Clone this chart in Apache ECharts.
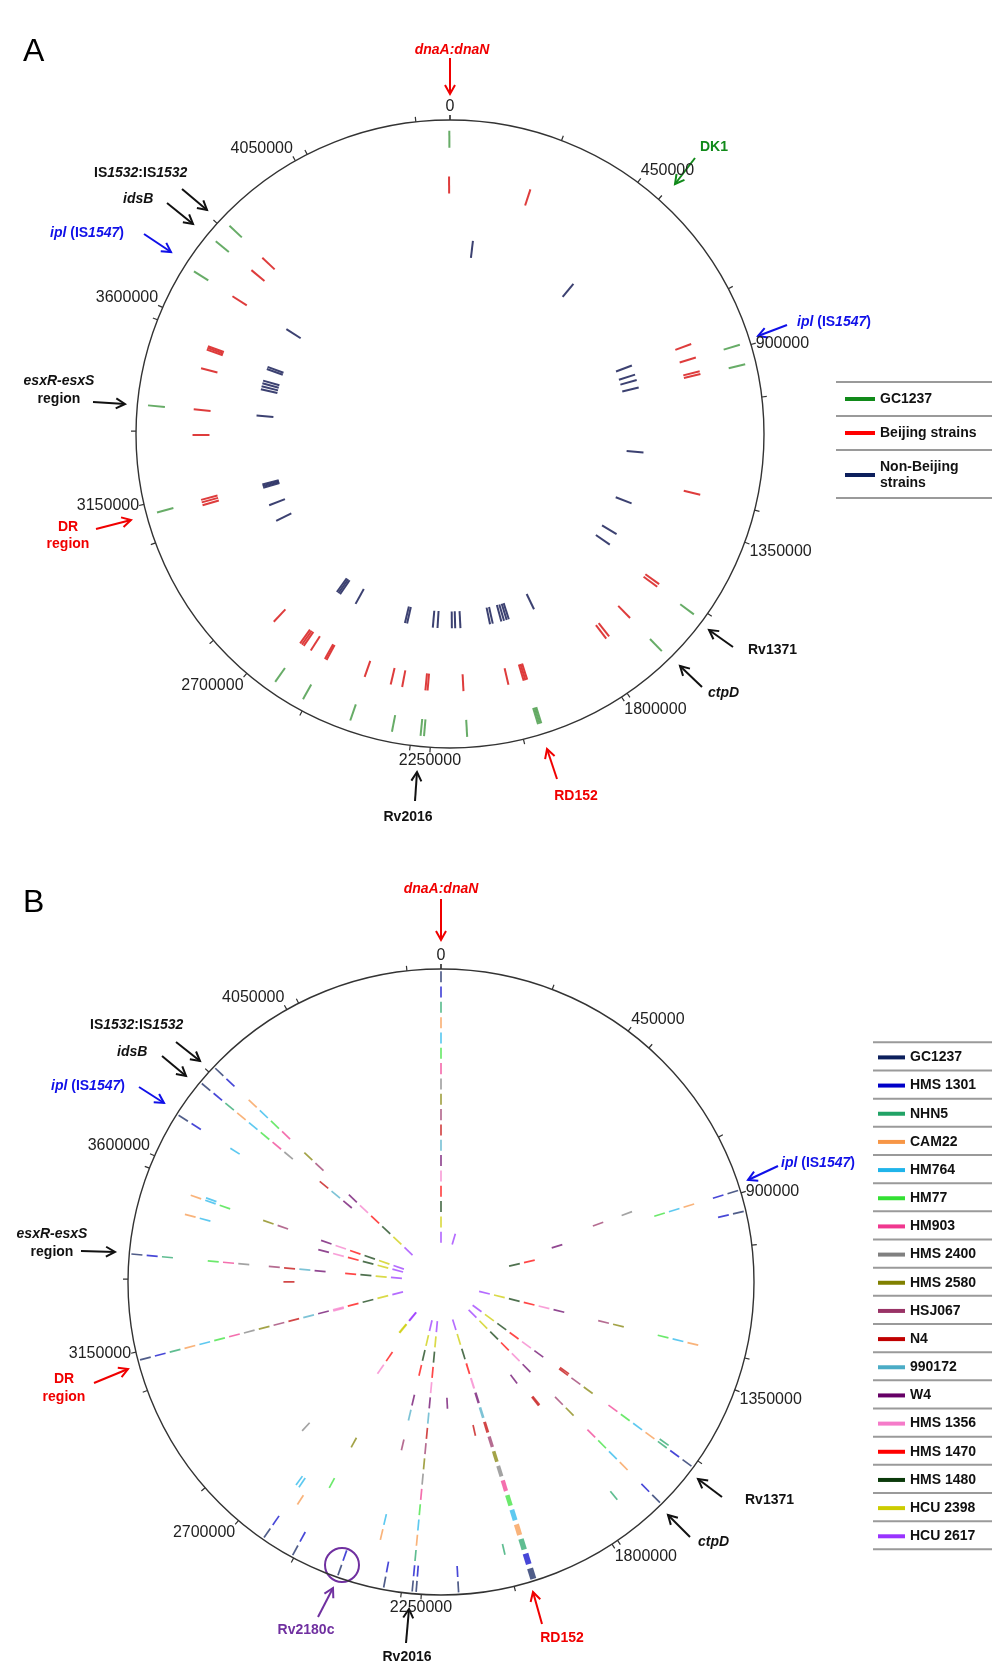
<!DOCTYPE html>
<html><head><meta charset="utf-8">
<script src="https://cdn.jsdelivr.net/npm/echarts@6/dist/echarts.min.js"></script>
<style>html,body{margin:0;padding:0;background:#fff}#c{width:1004px;height:1673px}</style>
</head><body><div id="c"></div>
<script>
// ---------------- DATA ----------------
const GENOME = 4411532;
const LABEL_STEP = 450000;   // labelled ticks
const MINOR_STEP = 255000;   // unlabelled ticks

// Panel A: variant positions per track
const seriesNamesA = ['GC1237', 'Beijing strains', 'Non-Beijing strains'];
const greenA = [4410000, 3840000, 3792000, 3706000, 3375000, 3125000, 2637000, 2561000, 2441000, 2341000,
  2266000, 2274000, 2166000, 1991000, 1995000, 1999000, 1663000, 1550000, 893000, 940000];
const redA = [4409000, 3838000, 3793000, 3705000, 3543000, 3548000, 3553000, 3490000, 3376000, 3306000,
  3112000, 3120000, 3127000, 2735000, 2630000, 2636000, 2642000, 2607000, 2557000, 2562000, 2443000,
  2369000, 2337000, 2267000, 2273000, 2169000, 2045000, 1992000, 1997000, 2002000, 1738000, 1748000,
  1662000, 1540000, 1549000, 1270000, 852000, 891000, 930000, 938000, 223000];
const navyA = [83000, 483000, 850000, 885000, 905000, 933000, 1170000, 1359000, 1483000, 1528000, 1892000,
  2060000, 2050000, 2018000, 2008000, 1998000, 1990000, 2199000, 2187000, 2168000, 2268000, 2251000,
  2362000, 2370000, 2628000, 2635000, 2642000, 2562000, 3112000, 3118000, 3124000, 3045000, 2983000,
  3709000, 3548000, 3556000, 3504000, 3494000, 3483000, 3472000, 3376000];

// Panel B: strains (outermost track first) and variant sites
const strainsB = ['GC1237', 'HMS 1301', 'NHN5', 'CAM22', 'HM764', 'HM77', 'HM903', 'HMS 2400', 'HMS 2580',
  'HSJ067', 'N4', '990172', 'W4', 'HMS 1356', 'HMS 1470', 'HMS 1480', 'HCU 2398', 'HCU 2617'];
const ALL = 'all';
const siteStartB = [0, 203000, 855000, 893000, 942000, 1272000, 1540000, 1548000, 1657000, 1728000,
  1731000, 1737000, 1754000, 1987000, 2044000, 2051000, 2166000, 2170000, 2262000, 2271000,
  2336000, 2368000, 2443000, 2555000, 2608000, 2631000, 2641000, 2684000, 2692000, 2733000,
  3124000, 3131000, 3309000, 3372000, 3490000, 3543000, 3550000, 3706000, 3795000, 3841000];
const siteEndB = [0, 203000, 855000, 893000, 942000, 1272000, 1540000, 1548000, 1657000, 1728000,
  1731000, 1737000, 1754000, 2001000, 2044000, 2051000, 2166000, 2170000, 2262000, 2271000,
  2336000, 2368000, 2443000, 2555000, 2608000, 2631000, 2641000, 2684000, 2692000, 2733000,
  3124000, 3131000, 3309000, 3372000, 3490000, 3543000, 3550000, 3706000, 3795000, 3841000];
const siteStrainsB = [ALL, [17], [7, 9], [0, 1, 3, 4, 5, 12], [0, 1, 14, 15],
  [3, 4, 5, 8, 9, 12, 13, 14, 15, 16, 17], [2, 10],
  [0, 1, 2, 3, 4, 5, 6, 8, 9, 10, 12, 13, 14, 15, 16, 17],
  [0, 1, 3, 4, 5, 6, 8, 9, 12, 13, 14, 15, 16, 17], [2],
  [10], [10], [12], ALL, [2], [10], [0, 1], [12], [0, 1], ALL,
  [0, 1], [3, 4, 9, 11, 12, 14, 15, 16, 17], [0, 1], [0, 1, 5, 8], [3], [0, 1, 4, 13, 14], [4],
  [16, 17], [16, 17], [7],
  [13], ALL, [10], [0, 1, 2, 5, 6, 7, 9, 10, 11, 12, 14, 15, 16, 17],
  [3, 4, 12, 13, 14, 15, 16, 17], [3, 4, 5, 8, 9, 12, 13, 14, 15, 16, 17], [4], [0, 1, 4],
  [0, 1, 2, 3, 4, 5, 6, 7, 10, 11, 12], [0, 1, 3, 4, 5, 6, 8, 9, 12, 13, 14, 15, 16, 17]];

// ---------------- STYLE ----------------
const FONT = '"Liberation Sans", Arial, Helvetica, sans-serif';
const colorsA = ['#118a1a', '#ff0000', '#0d1f5c'];
const markColorsA = ['#4c9e4c', '#d81a1a', '#1a2058'];
const ringA = [0.939, 0.793, 0.592];
const colorsB = ['#0c1f5c', '#0000c8', '#21a366', '#f79646', '#20b4ea', '#33e033', '#f0388f', '#808080',
  '#808000', '#993366', '#c00000', '#4bacc6', '#660066', '#f57bc9', '#ff0000', '#0b3a0b', '#cccc00', '#9933ff'];

function makeRender(halfLen, minW, alpha) {
  return function (params, api) {
    const r = api.value(0), a0 = api.value(1), a1 = api.value(2);
    const mid = (a0 + a1) / 2;
    const pIn = api.coord([r - halfLen, mid]);
    const pOut = api.coord([r + halfLen, mid]);
    const e0 = api.coord([r, a0]), e1 = api.coord([r, a1]);
    const w = Math.max(minW, Math.hypot(e1[0] - e0[0], e1[1] - e0[1]));
    return {
      type: 'line',
      shape: { x1: pIn[0], y1: pIn[1], x2: pOut[0], y2: pOut[1] },
      style: { stroke: api.visual('color'), lineWidth: w, opacity: alpha }
    };
  };
}

function angleAxes(polarIndex, labels) {
  return [{
    polarIndex: polarIndex, type: 'value', min: 0, max: GENOME, interval: LABEL_STEP,
    startAngle: 90, clockwise: true,
    axisLine: { show: true, lineStyle: { color: '#333', width: 1.4 } },
    axisTick: { show: true, length: 5, lineStyle: { color: '#333', width: 1.2 } },
    axisLabel: {
      show: labels, margin: 5, color: '#222', fontSize: 16, fontFamily: FONT,
      formatter: v => (v % LABEL_STEP === 0 && v < GENOME) ? String(v) : ''
    },
    splitLine: { show: false }, splitArea: { show: false }
  }, {
    polarIndex: polarIndex + 1, type: 'value', min: 0, max: GENOME, interval: MINOR_STEP,
    startAngle: 90, clockwise: true,
    axisLine: { show: false },
    axisTick: { show: true, length: 5, lineStyle: { color: '#333', width: 1.2 } },
    axisLabel: { show: false }, splitLine: { show: false }, splitArea: { show: false }
  }];
}
function hiddenRadius(polarIndex, min, max) {
  return {
    polarIndex: polarIndex, type: 'value', min: min, max: max,
    axisLine: { show: false }, axisTick: { show: false }, axisLabel: { show: false },
    splitLine: { show: false }, splitArea: { show: false }
  };
}

// ---------------- SERIES ----------------
const series = [];
[greenA, redA, navyA].forEach((arr, i) => {
  const base = makeRender(0.027, 2, 0.85);
  series.push({
    type: 'custom', name: seriesNamesA[i], coordinateSystem: 'polar', polarIndex: 0,
    itemStyle: { color: colorsA[i] },
    encode: { radius: 0, angle: 1 },
    renderItem: function (p, api) {
      const g = base(p, api);
      g.style.stroke = markColorsA[i];
      return g;
    },
    data: arr.map(v => [ringA[i], v, v])
  });
});
strainsB.forEach((name, k) => {
  const data = [];
  siteStartB.forEach((s, j) => {
    const rings = siteStrainsB[j];
    if (rings === ALL || rings.indexOf(k) >= 0) data.push([17.5 - k, s, siteEndB[j]]);
  });
  series.push({
    type: 'custom', name: 'B:' + name, coordinateSystem: 'polar', polarIndex: 2,
    itemStyle: { color: colorsB[k] },
    encode: { radius: 0, angle: 1 },
    renderItem: makeRender(0.36, 1.7, 0.72),
    data: data
  });
});

// ---------------- ANNOTATIONS ----------------
const els = [];
function arrow(x1, y1, x2, y2, color) {
  const ang = Math.atan2(y2 - y1, x2 - x1);
  const L = 9, W = 5;
  const bx = x2 - L * Math.cos(ang), by = y2 - L * Math.sin(ang);
  const px = -Math.sin(ang) * W, py = Math.cos(ang) * W;
  els.push({ type: 'line', shape: { x1: x1, y1: y1, x2: x2, y2: y2 }, style: { stroke: color, lineWidth: 2 } });
  els.push({ type: 'polyline', shape: { points: [[bx + px, by + py], [x2, y2], [bx - px, by - py]] },
    style: { stroke: color, lineWidth: 2, fill: null } });
}
function txt(x, y, text, color, align, italicAll, size, weight) {
  const f = (italicAll ? 'italic ' : '') + (weight || 'bold') + ' ' + (size || 14) + 'px ' + FONT;
  els.push({
    type: 'text', x: x, y: y,
    style: {
      text: text, fill: color, font: f,
      align: align, verticalAlign: 'middle', textAlign: align, textVerticalAlign: 'middle',
      rich: { i: { font: 'italic bold 14px ' + FONT, fill: color } }
    }
  });
}
const BLACK = '#111', RED = '#f00000', BLUE = '#1010e8', GREEN = '#118a1a', PURPLE = '#7030a0';

// Panel A
txt(23, 52, 'A', '#000', 'left', false, 32, 'normal');
txt(452, 50, 'dnaA:dnaN', RED, 'center', true);
arrow(450, 58, 450, 94, RED);
txt(700, 147, 'DK1', GREEN, 'left');
arrow(695, 158, 675, 184, GREEN);
txt(94, 173, 'IS{i|1532}:IS{i|1532}', BLACK, 'left');
arrow(182, 189, 207, 210, BLACK);
txt(123, 199, 'idsB', BLACK, 'left', true);
arrow(167, 203, 193, 224, BLACK);
txt(50, 233, '{i|ipl} (IS{i|1547})', BLUE, 'left');
arrow(144, 234, 171, 252, BLUE);
txt(59, 381, 'esxR-esxS', BLACK, 'center', true);
txt(59, 399, 'region', BLACK, 'center');
arrow(93, 402, 125, 404, BLACK);
txt(68, 527, 'DR', RED, 'center');
txt(68, 544, 'region', RED, 'center');
arrow(96, 529, 131, 520, RED);
txt(408, 817, 'Rv2016', BLACK, 'center');
arrow(415, 801, 417, 772, BLACK);
txt(576, 796, 'RD152', RED, 'center');
arrow(557, 779, 547, 749, RED);
txt(708, 693, 'ctpD', BLACK, 'left', true);
arrow(702, 687, 680, 666, BLACK);
txt(748, 650, 'Rv1371', BLACK, 'left');
arrow(733, 647, 709, 630, BLACK);
txt(797, 322, '{i|ipl} (IS{i|1547})', BLUE, 'left');
arrow(787, 325, 758, 336, BLUE);

// Panel B
txt(23, 903, 'B', '#000', 'left', false, 32, 'normal');
txt(441, 889, 'dnaA:dnaN', RED, 'center', true);
arrow(441, 899, 441, 940, RED);
txt(90, 1025, 'IS{i|1532}:IS{i|1532}', BLACK, 'left');
arrow(176, 1042, 200, 1061, BLACK);
txt(117, 1052, 'idsB', BLACK, 'left', true);
arrow(162, 1056, 186, 1076, BLACK);
txt(51, 1086, '{i|ipl} (IS{i|1547})', BLUE, 'left');
arrow(139, 1087, 164, 1103, BLUE);
txt(52, 1234, 'esxR-esxS', BLACK, 'center', true);
txt(52, 1252, 'region', BLACK, 'center');
arrow(81, 1251, 115, 1252, BLACK);
txt(64, 1379, 'DR', RED, 'center');
txt(64, 1397, 'region', RED, 'center');
arrow(94, 1383, 128, 1369, RED);
txt(306, 1630, 'Rv2180c', PURPLE, 'center');
arrow(318, 1617, 333, 1588, PURPLE);
els.push({ type: 'circle', shape: { cx: 342, cy: 1565, r: 17 }, style: { fill: null, stroke: PURPLE, lineWidth: 2 } });
txt(407, 1657, 'Rv2016', BLACK, 'center');
arrow(406, 1643, 409, 1609, BLACK);
txt(562, 1638, 'RD152', RED, 'center');
arrow(542, 1624, 533, 1592, RED);
txt(698, 1542, 'ctpD', BLACK, 'left', true);
arrow(690, 1537, 668, 1515, BLACK);
txt(745, 1500, 'Rv1371', BLACK, 'left');
arrow(722, 1497, 698, 1479, BLACK);
txt(781, 1163, '{i|ipl} (IS{i|1547})', BLUE, 'left');
arrow(778, 1166, 748, 1180, BLUE);

// legend separators
[382, 416, 450, 498].forEach(y => els.push({ type: 'line', shape: { x1: 836, y1: y, x2: 992, y2: y }, style: { stroke: '#9a9a9a', lineWidth: 2 } }));
for (let k = 0; k <= strainsB.length; k++) {
  const y = 1042.3 + 28.17 * k;
  els.push({ type: 'line', shape: { x1: 873, y1: y, x2: 992, y2: y }, style: { stroke: '#9a9a9a', lineWidth: 2 } });
}

// ---------------- CHART ----------------
const chart = echarts.init(document.getElementById('c'), null, { renderer: 'canvas' });
chart.setOption({
  animation: false,
  backgroundColor: '#fff',
  polar: [
    { center: [450, 434], radius: 314 },
    { center: [450, 434], radius: 314 },
    { center: [441, 1282], radius: 313 },
    { center: [441, 1282], radius: 313 }
  ],
  angleAxis: angleAxes(0, true).concat(angleAxes(2, true)),
  radiusAxis: [hiddenRadius(0, 0, 1), hiddenRadius(1, 0, 1), hiddenRadius(2, -2.42, 18), hiddenRadius(3, -2.42, 18)],
  legend: [{
    data: seriesNamesA, orient: 'vertical', left: 845, top: 391, padding: 0,
    itemWidth: 30, itemHeight: 4, itemGap: 18, icon: 'rect', selectedMode: false,
    formatter: n => n === 'Non-Beijing strains' ? 'Non-Beijing\nstrains' : n,
    textStyle: { fontSize: 14, fontWeight: 'bold', fontFamily: FONT, color: '#111', lineHeight: 16 }
  }, {
    data: strainsB.map(s => 'B:' + s), orient: 'vertical', left: 878, top: 1049.4, padding: 0,
    itemWidth: 27, itemHeight: 4, itemGap: 12.17, icon: 'rect', selectedMode: false,
    formatter: n => n.slice(2),
    textStyle: { fontSize: 14, fontWeight: 'bold', fontFamily: FONT, color: '#111', lineHeight: 16 }
  }],
  graphic: { elements: els },
  series: series
});
</script>
</body></html>
